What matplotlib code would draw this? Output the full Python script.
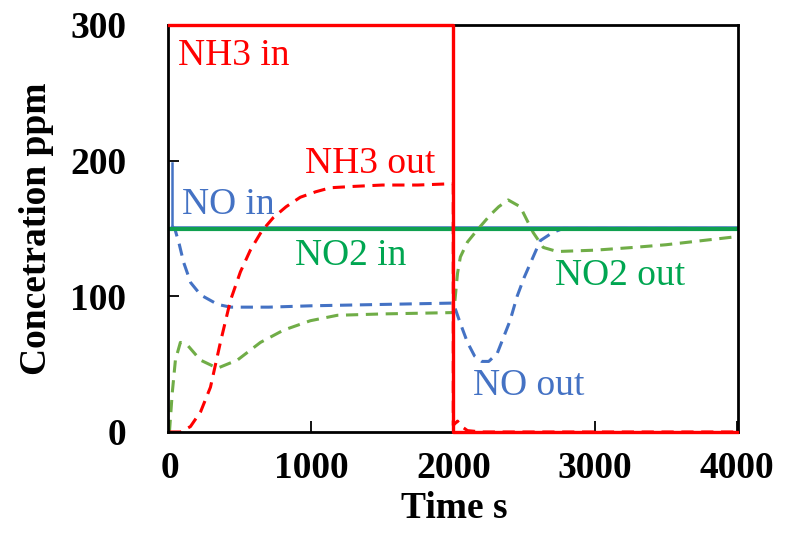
import matplotlib
matplotlib.use("Agg")
import matplotlib.pyplot as plt

plt.rcParams['font.family'] = ['Liberation Serif', 'DejaVu Serif']

# ---- data ----
nh3_in_t = [0, 2000, 2000, 4000]
nh3_in_v = [300, 300, 0, 0]

no_in_t = [15, 15, 4000]
no_in_v = [198, 150.8, 150.8]

no2_in_t = [0, 4000]
no2_in_v = [149.5, 149.5]

nh3_out_t = [0, 80, 148, 220, 289, 359, 430, 500, 570, 650, 732, 822, 922, 1030,
             1134, 1300, 1500, 1750, 2000, 2000, 2030, 2060, 2100, 2200, 4000]
nh3_out_v = [0, 0, 4, 15, 33, 66, 97, 118, 134, 148, 158, 166, 173, 177,
             180, 181, 182, 182, 183, 5, 8, 4, 1, 0, 0]

no_out_t = [15, 40, 70, 100, 150, 220, 340, 430, 700, 1000, 1500, 2000, 2050, 2100,
            2150, 2200, 2250, 2310, 2400, 2450, 2500, 2613, 2700, 2775, 3000, 4000]
no_out_v = [152, 149, 138, 125, 110, 101, 94, 92, 92, 93, 94, 95, 80, 66,
            56, 52, 52, 58, 82, 100, 114, 141, 147, 150, 150, 150]

no2_out_t = [0, 20, 42, 77, 127, 218, 338, 479, 641, 803, 993, 1183, 1500, 2000,
             2010, 2030, 2050, 2100, 2170, 2261, 2320, 2387, 2472, 2563, 2634, 2732,
             3000, 3268, 3500, 4000]
no2_out_v = [0, 29, 53, 66, 64, 53, 47, 53, 66, 75, 82, 86, 87, 88,
             95, 117, 129, 140, 149, 160, 166, 171, 166, 147, 136, 133,
             134, 136, 138, 144]

xticks = [0, 1000, 2000, 3000, 4000]
yticks = [0, 100, 200, 300]

labels = [
    ("NH3 in", 63, 270.5, '#FF0000'),
    ("NO in", 92, 161, '#4472C4'),
    ("NH3 out", 958, 191, '#FF0000'),
    ("NO2 in", 887, 123, '#00A651'),
    ("NO2 out", 2718, 108, '#00A651'),
    ("NO out", 2141, 27, '#4472C4'),
]

# ---- figure ----
fig = plt.figure(figsize=(7.87, 5.42), dpi=100)
ax = fig.add_axes([0.2135, 0.203, 0.724, 0.751])

red = '#FF0000'
blue = '#4472C4'
green_solid = '#10A050'
green_dash = '#70AD47'

ax.plot(no_in_t, no_in_v, color=blue, lw=1.8, zorder=2, clip_on=False)
ax.plot(no2_in_t, no2_in_v, color=green_solid, lw=3.0, zorder=2.2)
ax.plot(no_out_t, no_out_v, color=blue, lw=2.2, dashes=(4, 2.5), zorder=2.1)
ax.plot(no2_out_t, no2_out_v, color=green_dash, lw=2.2, dashes=(4, 2.5), zorder=2.1)
ax.plot(nh3_out_t, nh3_out_v, color=red, lw=2.2, dashes=(4, 2.5), zorder=2.3)
ax.plot(nh3_in_t, nh3_in_v, color=red, lw=2.4, zorder=3, clip_on=False)

for txt, x, y, c in labels:
    ax.text(x, y, txt, color=c, fontsize=27, va='baseline', ha='left')

ax.set_xlim(-10, 4005)
ax.set_ylim(0, 300)
ax.set_xticks(xticks)
ax.set_yticks(yticks)
ax.set_xticklabels([str(v) for v in xticks], fontsize=27, fontweight='bold')
ax.set_yticklabels([str(v) for v in yticks], fontsize=27, fontweight='bold')
ax.tick_params(axis='both', direction='in', length=8, width=1.3, color='black')
ax.tick_params(axis='y', pad=30)
ax.tick_params(axis='x', pad=14)

for s in ax.spines.values():
    s.set_linewidth(2)
    s.set_color('black')

ax.set_ylabel("Concetration ppm", fontsize=27, fontweight='bold', va='center', ha='center')
ax.yaxis.set_label_coords(-0.23, 0.5)
ax.set_xlabel("Time s", fontsize=27, fontweight='bold', va='top', ha='center')
ax.xaxis.set_label_coords(0.503, -0.145)

fig.savefig("out.png", dpi=100)
